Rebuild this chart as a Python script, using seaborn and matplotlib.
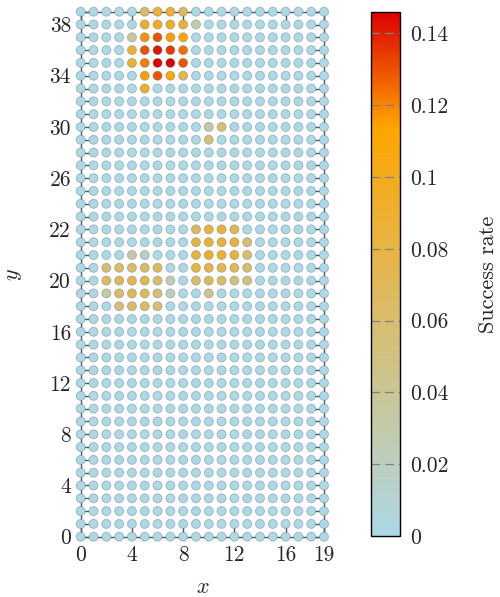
import numpy as np
import pandas as pd
import matplotlib
matplotlib.use("Agg")
import matplotlib.pyplot as plt
import seaborn as sns
from matplotlib.colors import LinearSegmentedColormap, Normalize
from matplotlib.cm import ScalarMappable
from matplotlib.ticker import FixedLocator

# ---- data ----
x_cols = list(range(20))
y_rows = list(range(42))

hot_y = [41, 41, 41, 41,
         40, 40, 40, 40, 40,
         39, 39, 39, 39, 39,
         38, 38, 38, 38, 38,
         37, 37, 37, 37, 37,
         36, 36, 36, 36,
         35,
         32, 32,
         31,
         24, 24, 24, 24,
         23, 23, 23, 23, 23,
         22, 22, 22, 22, 22, 22, 22,
         21, 21, 21, 21, 21, 21, 21, 21, 21, 21,
         20, 20, 20, 20, 20, 20, 20, 20, 20, 20, 20,
         19, 19, 19, 19, 19, 19, 19,
         18, 18, 18, 18]
hot_x = [5, 6, 7, 8,
         5, 6, 7, 8, 9,
         4, 5, 6, 7, 8,
         4, 5, 6, 7, 8,
         4, 5, 6, 7, 8,
         5, 6, 7, 8,
         5,
         10, 11,
         10,
         9, 10, 11, 12,
         9, 10, 11, 12, 13,
         4, 5, 9, 10, 11, 12, 13,
         2, 3, 4, 5, 6, 9, 10, 11, 12, 13,
         2, 3, 4, 5, 6, 7, 9, 10, 11, 12, 13,
         2, 3, 4, 5, 6, 7, 10,
         3, 4, 5, 6]
hot_rate = [0.065, 0.088, 0.088, 0.070,
            0.095, 0.100, 0.095, 0.090, 0.030,
            0.035, 0.117, 0.130, 0.115, 0.113,
            0.090, 0.130, 0.142, 0.135, 0.124,
            0.090, 0.122, 0.146, 0.146, 0.130,
            0.115, 0.130, 0.110, 0.075,
            0.095,
            0.035, 0.060,
            0.058,
            0.070, 0.085, 0.085, 0.075,
            0.080, 0.088, 0.090, 0.085, 0.060,
            0.035, 0.020, 0.085, 0.095, 0.090, 0.085, 0.060,
            0.060, 0.065, 0.065, 0.065, 0.070, 0.080, 0.080, 0.075, 0.070, 0.060,
            0.065, 0.070, 0.075, 0.075, 0.060, 0.025, 0.065, 0.070, 0.065, 0.055, 0.050,
            0.035, 0.065, 0.070, 0.070, 0.055, 0.025, 0.045,
            0.055, 0.065, 0.065, 0.055]

x_ticks = [0, 4, 8, 12, 16, 19]
x_ticklabels = ["0", "4", "8", "12", "16", "19"]
y_ticks = [0, 4, 8, 12, 16, 20, 24, 28, 32, 36, 40]
y_ticklabels = ["0", "4", "8", "12", "16", "20", "22", "26", "30", "34", "38"]
cbar_ticks = [0, 0.02, 0.04, 0.06, 0.08, 0.10, 0.12, 0.14]
cbar_ticklabels = ["0", "0.02", "0.04", "0.06", "0.08", "0.1", "0.12", "0.14"]
rate_min, rate_max = 0.0, 0.146

# build grid table
gx, gy = np.meshgrid(x_cols, y_rows)
rate = np.zeros_like(gx, dtype=float)
for xx, yy, rr in zip(hot_x, hot_y, hot_rate):
    rate[yy, xx] = rr
df = pd.DataFrame({"x": gx.ravel(), "y": gy.ravel(), "rate": rate.ravel()})

# ---- style ----
sns.set_style("white")
plt.rcParams.update({
    "font.family": "serif",
    "font.serif": ["cmr10"],
    "mathtext.fontset": "cm",
    "axes.unicode_minus": False,
    "axes.formatter.use_mathtext": True,
    "font.size": 15.5,
})

cmap = LinearSegmentedColormap.from_list(
    "succ", [(0.0, "#ADD8E6"), (0.78, "#FFA500"), (1.0, "#DD0000")])
norm = Normalize(vmin=rate_min, vmax=rate_max)

fig = plt.figure(figsize=(5.0, 5.97), dpi=100)
ax = fig.add_axes([0.1614, 0.1010, 0.4866, 0.8794])

sns.scatterplot(data=df, x="x", y="y", hue="rate", palette=cmap, hue_norm=norm,
                s=42, edgecolor=(0.35, 0.45, 0.5, 0.4), linewidth=0.7,
                legend=False, ax=ax, zorder=3, clip_on=False)

ax.set_xlim(0, 19)
ax.set_ylim(0, 41)
ax.set_xticks(x_ticks)
ax.set_xticklabels(x_ticklabels)
ax.set_yticks(y_ticks)
ax.set_yticklabels(y_ticklabels)
ax.yaxis.set_minor_locator(FixedLocator(y_rows))
ax.tick_params(which="both", direction="in", length=9, width=1.0,
               color="#555555", bottom=True, left=True, top=True, right=True,
               labelsize=15.5)
ax.tick_params(axis="y", pad=7)
ax.tick_params(axis="x", pad=6)
for sp in ax.spines.values():
    sp.set_color("#555555")
    sp.set_linewidth(1.0)
    sp.set_visible(True)
ax.set_xlabel("$x$", fontsize=16, labelpad=9)
ax.set_ylabel("$y$", fontsize=16, labelpad=18)

# ---- colorbar ----
cax = fig.add_axes([0.742, 0.102, 0.058, 0.878])
sm = ScalarMappable(norm=norm, cmap=cmap)
cb = fig.colorbar(sm, cax=cax)
cb.set_ticks(cbar_ticks, labels=cbar_ticklabels)
cax.tick_params(length=0, pad=7, labelsize=15.5)
for t in cbar_ticks[1:]:
    cax.axhline(t, color="#808080", lw=0.9, ls=(0, (7, 4)))
cb.outline.set_edgecolor("black")
cb.outline.set_linewidth(1.0)
cb.set_label("Success rate", fontsize=16, labelpad=22)

fig.savefig("out.png", dpi=100)
